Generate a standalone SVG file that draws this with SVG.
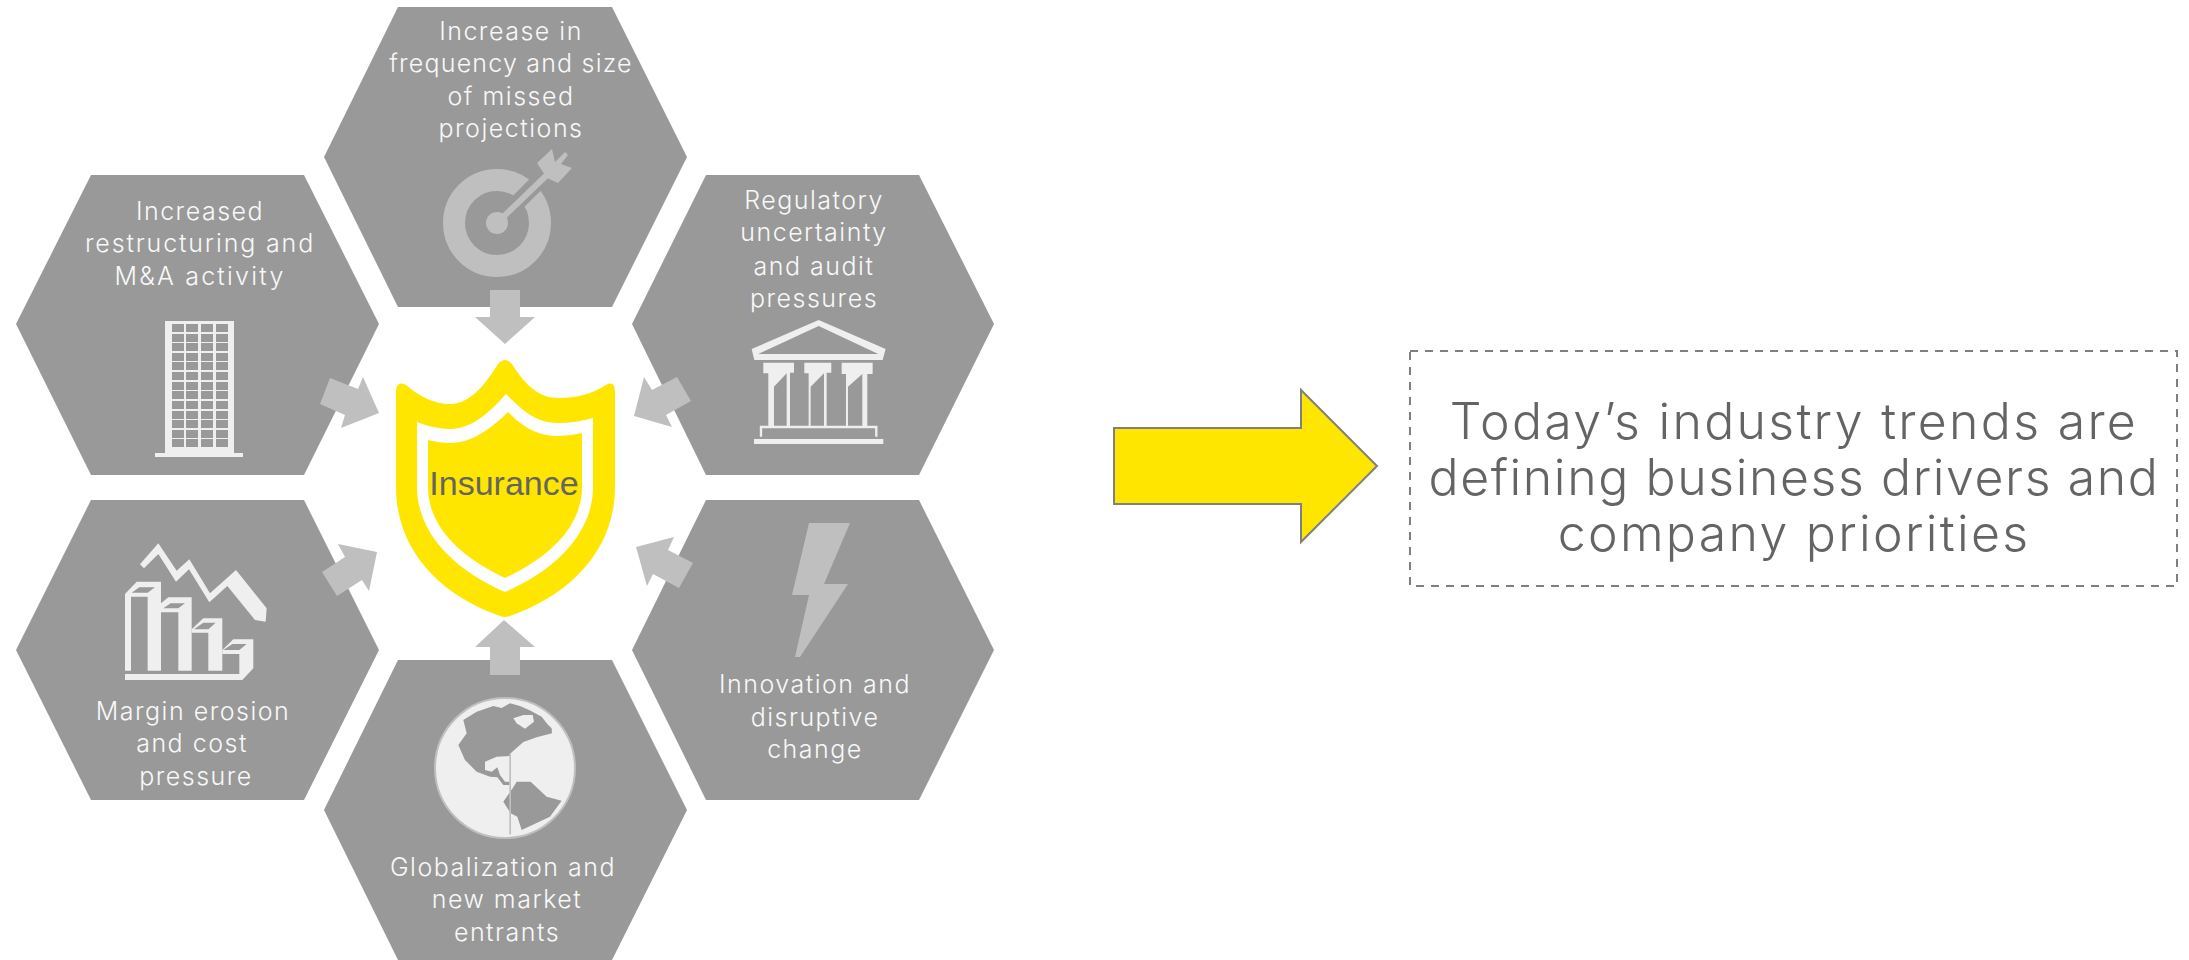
<svg xmlns="http://www.w3.org/2000/svg" width="2189" height="960" viewBox="0 0 2189 960">
<style>
.hex{fill:#999999}
.lbl{font-family:"Inter","Noto Sans",sans-serif;font-weight:300;font-size:25px;fill:#F8F8F8;text-anchor:middle;letter-spacing:1.5px}
.ic{fill:#EFEFEF}
.ic2{fill:#BFBFBF}
.con{fill:#BFBFBF}
.big{font-family:"Inter","Noto Sans",sans-serif;font-weight:300;font-size:50px;fill:#646464;text-anchor:middle;letter-spacing:2.3px}
</style>
<rect width="2189" height="960" fill="#FFFFFF"/>
<g id="node-projections">
<polygon class="hex" points="398,7 612,7 687,157 612,307 398,307 324,157"/>
<text class="lbl" x="511" y="40">Increase in</text>
<text class="lbl" x="511" y="72" style="letter-spacing:1.2px">frequency and size</text>
<text class="lbl" x="511" y="105">of missed</text>
<text class="lbl" x="511" y="137">projections</text>
<circle cx="497" cy="223" r="43" fill="none" stroke="#BFBFBF" stroke-width="22"/>
<line x1="497" y1="223" x2="548" y2="172" stroke="#999999" stroke-width="16"/>
<circle class="ic2" cx="497" cy="223" r="11"/>
<line x1="497" y1="223" x2="550" y2="172" stroke="#BFBFBF" stroke-width="6"/>
<polygon class="ic2" points="552,149 555,162 565,152 568,155 561,164 572,168 558,183 547,178 537,163"/>
</g>
<g id="node-restructuring">
<polygon class="hex" points="91,175 304,175 379,324 304,475 91,475 16,324"/>
<text class="lbl" x="200" y="220">Increased</text>
<text class="lbl" x="200" y="252" style="letter-spacing:1.85px">restructuring and</text>
<text class="lbl" x="200" y="285" style="letter-spacing:2.2px">M&amp;A activity</text>
<rect class="ic" x="165" y="321" width="69" height="132"/>
<rect class="ic" x="155" y="453" width="88" height="4"/>
<path fill="#999999" d="M172,324h12v8h-12zM186,324h12v8h-12zM201,324h12v8h-12zM216,324h12v8h-12zM172,334h12v8h-12zM186,334h12v8h-12zM201,334h12v8h-12zM216,334h12v8h-12zM172,343h12v8h-12zM186,343h12v8h-12zM201,343h12v8h-12zM216,343h12v8h-12zM172,353h12v8h-12zM186,353h12v8h-12zM201,353h12v8h-12zM216,353h12v8h-12zM172,362h12v8h-12zM186,362h12v8h-12zM201,362h12v8h-12zM216,362h12v8h-12zM172,372h12v8h-12zM186,372h12v8h-12zM201,372h12v8h-12zM216,372h12v8h-12zM172,382h12v8h-12zM186,382h12v8h-12zM201,382h12v8h-12zM216,382h12v8h-12zM172,391h12v8h-12zM186,391h12v8h-12zM201,391h12v8h-12zM216,391h12v8h-12zM172,401h12v8h-12zM186,401h12v8h-12zM201,401h12v8h-12zM216,401h12v8h-12zM172,411h12v8h-12zM186,411h12v8h-12zM201,411h12v8h-12zM216,411h12v8h-12zM172,420h12v8h-12zM186,420h12v8h-12zM201,420h12v8h-12zM216,420h12v8h-12zM172,430h12v8h-12zM186,430h12v8h-12zM201,430h12v8h-12zM216,430h12v8h-12zM172,439h12v8h-12zM186,439h12v8h-12zM201,439h12v8h-12zM216,439h12v8h-12z"/>
</g>
<g id="node-regulatory">
<polygon class="hex" points="706,175 919,175 994,324 919,475 706,475 632,324"/>
<text class="lbl" x="814" y="209">Regulatory</text>
<text class="lbl" x="814" y="241">uncertainty</text>
<text class="lbl" x="814" y="275">and audit</text>
<text class="lbl" x="814" y="307">pressures</text>
<g transform="translate(620 170) scale(.3333)">
<path class="ic" fill-rule="evenodd" d="M596,450L797,537L788,570H403L395,537ZM596,468L415,552H775Z"/>
<path class="ic" d="M430,578H522V608H510V770H500V610L462,650V770H445V610H430Z"/>
<path class="ic" d="M553,578H634V608H620V770H612V610L572,650V770H566V610H553Z"/>
<path class="ic" d="M665,578H758V612H742V770H727V612L684,650V770H678V612H665Z"/>
<path fill="none" stroke="#EFEFEF" stroke-width="7" d="M423,800V771H769V800"/>
<rect class="ic" x="402" y="807" width="388" height="15"/>
</g>
</g>
<g id="node-margin">
<polygon class="hex" points="91,500 304,500 379,650 304,800 91,800 16,650"/>
<text class="lbl" x="193" y="720">Margin erosion</text>
<text class="lbl" x="192" y="752">and cost</text>
<text class="lbl" x="196" y="785">pressure</text>
<g transform="translate(100 500) scale(.3333)">
<polygon class="ic" points="120,193 175,130 230,212 268,178 330,280 408,210 500,325 497,365 465,360 382,258 328,307 267,208 228,245 175,162 132,205"/>
<path class="ic" fill-rule="evenodd" d="M75,282L110,245H183V512H143V290H93V512H75ZM95,278L118,262H165L143,278Z"/>
<path class="ic" fill-rule="evenodd" d="M183,310L205,292H275V512H235V337H183ZM190,325L212,310H255L235,325Z"/>
<path class="ic" fill-rule="evenodd" d="M275,388L310,355H367V512H325V398H275ZM282,388L310,368H347L325,388Z"/>
<path class="ic" fill-rule="evenodd" d="M367,450L400,418H460V505L427,540H75V522H418V462H367ZM370,450L397,432H440L418,450Z"/>
</g>
</g>
<g id="node-innovation">
<polygon class="hex" points="706,500 919,500 994,650 919,800 706,800 632,650"/>
<text class="lbl" x="815" y="693">Innovation and</text>
<text class="lbl" x="815" y="726">disruptive</text>
<text class="lbl" x="815" y="758">change</text>
<polygon class="ic2" points="809,523 850,523 824,584 848,584 800,657 795,657 809,595 792,595"/>
</g>
<g id="node-globalization">
<polygon class="hex" points="398,660 612,660 687,810 612,960 398,960 324,810"/>
<text class="lbl" x="503" y="876">Globalization and</text>
<text class="lbl" x="507" y="908">new market</text>
<text class="lbl" x="507" y="941">entrants</text>
<circle cx="505" cy="768" r="70" fill="#EFEFEF" stroke="#BFBFBF" stroke-width="2"/>
<g transform="translate(410 650) scale(.3333)" fill="#999999">
<path d="M160,210L200,185L250,168L275,174L300,160L330,168L362,182L395,200L412,222L425,235L426,250L380,262L340,276L302,310L298,405L280,405L262,382L240,380L200,365L165,330L145,285L170,250Z"/>
<path fill="#EFEFEF" d="M225,335L260,320L300,318V395L285,395L270,375L262,352L245,365L225,360Z"/>
<path fill="#EFEFEF" d="M310,205L340,195L368,195L372,215L345,236L320,220Z"/>
<path d="M320,395L362,395L410,440L455,452L420,500L335,540L322,500L302,490L280,455L310,412Z"/>
<rect x="298" y="310" width="5" height="243" fill="#BFBFBF"/>
</g>
</g>
<g id="connectors">
<polygon class="con" points="490,290 520,290 520,317 535,317 505,344 475,317 490,317"/>
<polygon class="con" points="490,675 520,675 520,647 535,647 504,620 475,647 490,647"/>
<polygon class="con" points="330,378 320,404 345,415 341,428 379,413 363,377 358,389"/>
<polygon class="con" points="677,377 691,401 666,415 672,427 634,416 644,377 652,390"/>
<polygon class="con" points="322,572 345,557 338,544 377,552 369,591 362,580 337,596"/>
<polygon class="con" points="636,547 674,537 668,550 693,563 679,588 653,574 647,586"/>
</g>
<g id="node-insurance">
<path fill="#FFE600" d="M396,392Q396,380 406,385Q428,404 450,404C472,404 488,380 498,364Q505,356 512,364C522,380 536,398 558,398Q586,398 606,385Q615,380 615,392V487C615,550 570,595 510,616Q505,618 500,616C440,595 396,550 396,487Z"/>
<path fill="#FFFFFF" d="M417,422Q434,429 450,429C472,429 490,412 506,394C522,410 536,423 558,423Q576,423 593,418V487C593,530 560,568 505,592C450,568 417,530 417,487Z"/>
<path fill="#FFE600" d="M428,440Q440,443 450,443C472,443 492,428 508,412C522,426 536,436 558,436Q570,436 582,433V487C582,525 552,556 505,578C458,556 428,525 428,487Z"/>
<text x="504" y="495" font-family="'Liberation Sans',sans-serif" font-size="34" fill="#646464" text-anchor="middle">Insurance</text>
</g>
<g id="flow-arrow">
<polygon points="1114,428 1301,428 1301,390 1377,466 1301,542 1301,504 1114,504" fill="#FFE600" stroke="#808080" stroke-width="2"/>
</g>
<g id="node-summary">
<rect x="1410" y="351" width="767" height="235" fill="none" stroke="#7F7F7F" stroke-width="2" stroke-dasharray="8 7"/>
<text class="big" x="1794" y="439">Today’s industry trends are</text>
<text class="big" x="1794" y="495" style="letter-spacing:1.6px">defining business drivers and</text>
<text class="big" x="1794" y="551">company priorities</text>
</g>
</svg>
